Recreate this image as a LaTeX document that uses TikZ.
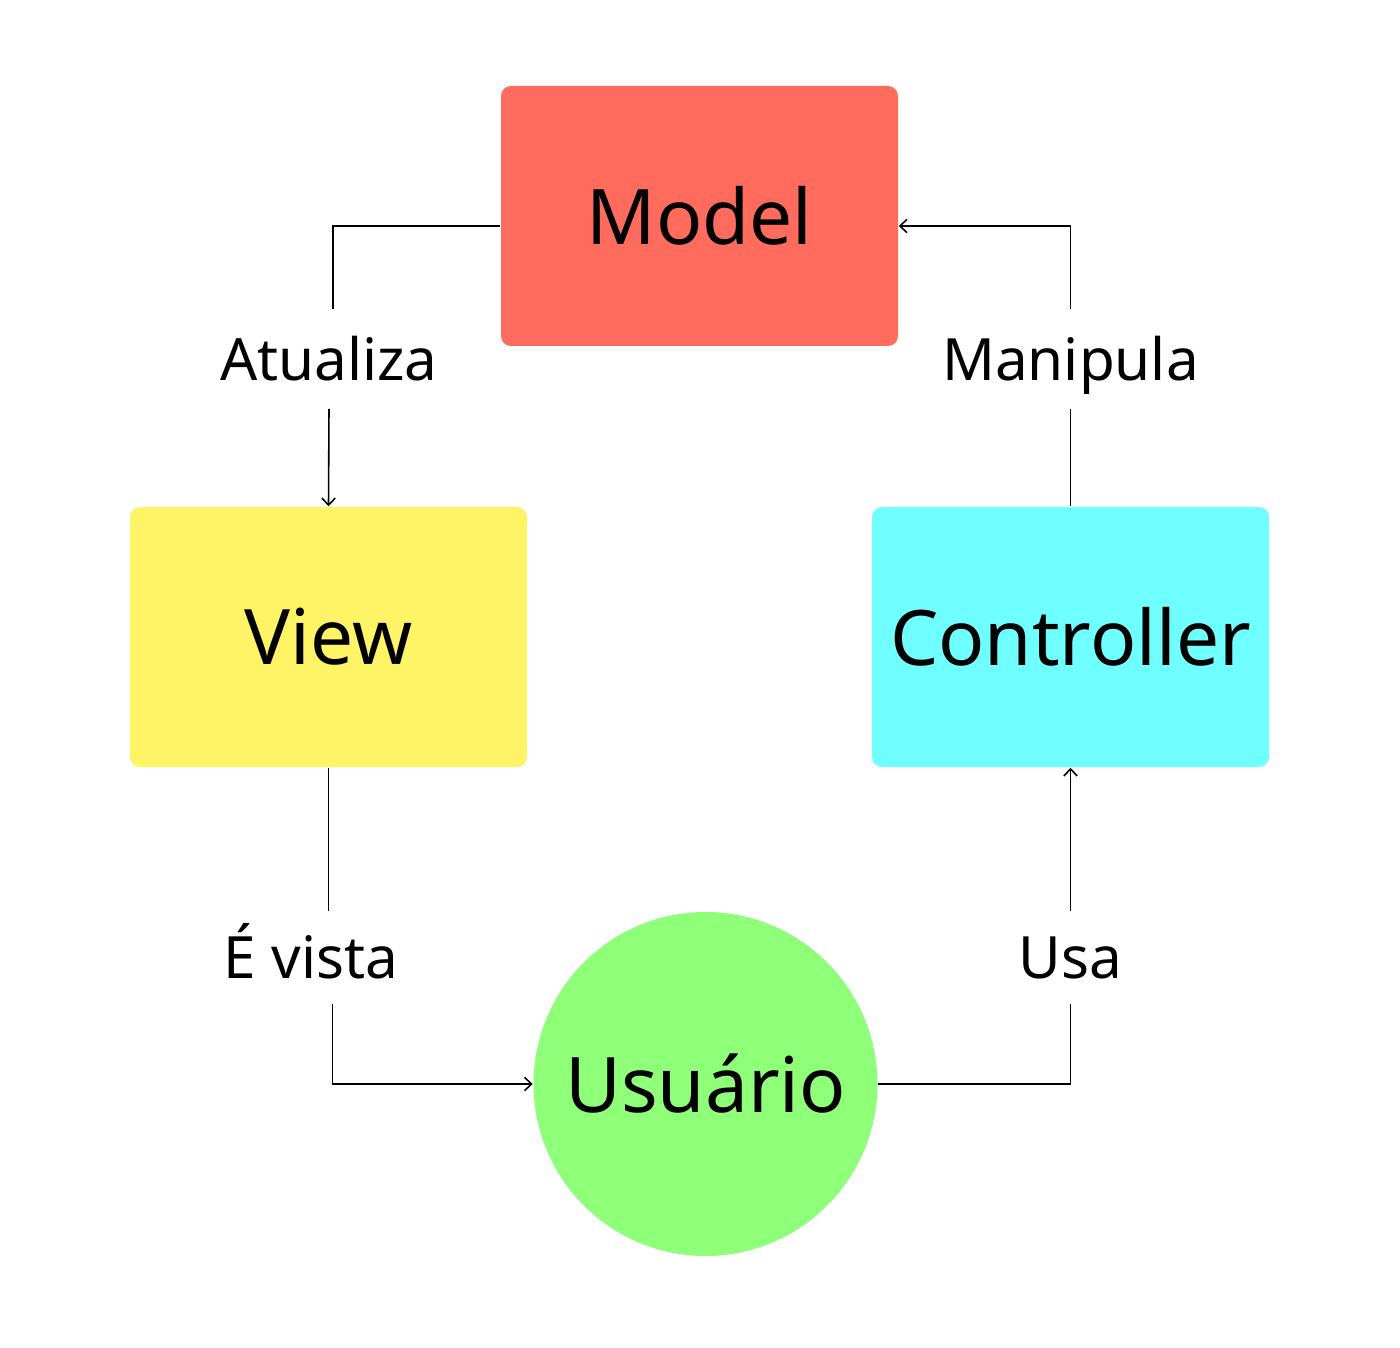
\documentclass[tikz,border=0pt]{standalone}
\usepackage{fontspec}
\setmainfont{Noto Sans}
\usepackage{xcolor}
\usepackage{tikz}
\usetikzlibrary{
	arrows.meta,
	positioning,
	shapes,
	}

\definecolor{modelred}{HTML}{FF6B5C}
\definecolor{viewyellow}{HTML}{FFF366}
\definecolor{ctrlcyan}{HTML}{70FFFF}
\definecolor{usergreen}{HTML}{8FFF7A}

\begin{document}
\begin{tikzpicture}[
		bloco/.style={rectangle, rounded corners=1mm, minimum width=3.97cm, minimum height=2.6cm, inner sep=0pt, font=\fontsize{21.8}{26}\selectfont},
		rotulo/.style={inner sep=0pt, text height=12.2pt, text depth=0pt, minimum height=0.95cm, fill=white, font=\fontsize{16.6}{20}\selectfont},
		seta/.style={-{Straight Barb[length=2pt, width=3.8pt]}},
		line width=0.45pt,
	]
			\useasboundingbox (0,0) rectangle (14,13.47);

			\node[bloco, fill=modelred] (model) at (6.995,11.31) {Model};
			\node[bloco, fill=viewyellow] (view) at (3.285,7.10) {View};
			\node[bloco, fill=ctrlcyan] (controller) at (10.705,7.10) {Controller};
			\node[circle, fill=usergreen, minimum size=3.44cm, inner sep=0pt, font=\fontsize{21.8}{26}\selectfont] (usuario) at (7.055,2.63) {Usuário};

			\node[rotulo, minimum height=0.98cm] (atualiza) at (3.29,9.88) {Atualiza};
			\node[rotulo, minimum height=0.98cm] (manipula) at (10.705,9.88) {Manipula};
			\node[rotulo, minimum height=0.91cm] (evista) at (3.11,3.895) {É vista};
			\node[rotulo, minimum height=0.91cm] (usa) at (10.705,3.895) {Usa};

			\draw ([yshift=-1mm]model.west) -| ([xshift=0.4mm]atualiza.north);
			\draw[seta] (atualiza.south) -- (view.north);
			\draw (controller.north) -- (manipula.south);
			\draw[seta] (manipula.north) |- ([yshift=-1mm]model.east);
			\draw (view.south) -- (view.south |- evista.north);
			\draw[seta] ([xshift=0.4mm]view.south |- evista.south) |- (usuario.west);
			\draw (usuario.east) -| (usa.south);
			\draw[seta] (usa.north) -- (controller.south);

		\end{tikzpicture}
\end{document}
